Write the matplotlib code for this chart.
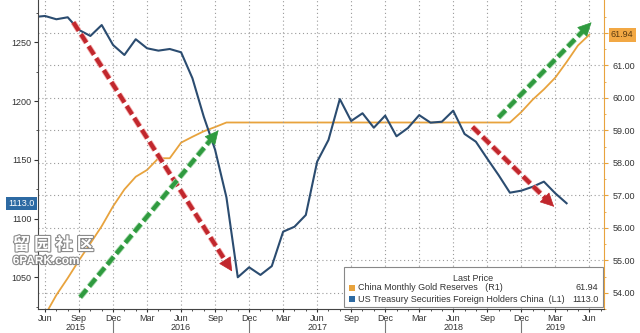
import pandas as pd
import matplotlib
matplotlib.use('Agg')
import matplotlib.pyplot as plt
import matplotlib.patheffects as pe
from matplotlib.patches import Rectangle
from matplotlib.transforms import blended_transform_factory

plt.rcParams['font.family'] = ['Liberation Sans', 'DejaVu Sans']

# US Treasury securities, foreign holders: China ($bn, L1), May 2015 - Apr 2019
ust_months = pd.period_range('2015-05', '2019-04', freq='M')
ust_china = [1271.5, 1272.4, 1269.6, 1271.3, 1260.5, 1255.4, 1264.7, 1247.7,
             1239.2, 1252.6, 1244.9, 1242.9, 1244.3, 1241.5, 1219.4, 1186.7,
             1158.5, 1118.0, 1050.0, 1058.5,
             1052.0, 1059.5, 1088.8, 1093.0, 1103.0, 1148.4, 1166.9, 1201.7,
             1183.0, 1189.6, 1177.3, 1187.6,
             1170.0, 1177.0, 1188.0, 1181.6, 1182.4, 1191.8, 1172.0, 1165.4,
             1151.0, 1137.0, 1122.0, 1123.7,
             1127.0, 1131.4, 1121.5, 1113.0]

# China monthly gold reserves (mn oz, R1), Jun 2015 - Jun 2019
gold_months = pd.period_range('2015-06', '2019-06', freq='M')
gold_reserves = [53.31, 53.93, 54.45, 55.00, 55.52, 56.05, 56.66,
                 57.18, 57.57, 57.78, 58.14, 58.14, 58.62, 58.80, 58.97,
                 59.10, 59.24, 59.24, 59.24] + [59.24] * 12 + [59.24] * 11 + \
                [59.56, 59.94, 60.26, 60.62, 61.10, 61.61, 61.94]

base = pd.Period('2015-06', 'M')
x_ust = [(p - base).n for p in ust_months]
x_gold = [(p - base).n for p in gold_months]

tick_months = pd.period_range('2015-06', '2019-06', freq='M')[::3]
x_ticks = [(p - base).n for p in tick_months]
tick_labels = [p.strftime('%b') for p in tick_months]

years = ['2015', '2016', '2017', '2018', '2019']
year_pos = [2.7, 12, 24, 36, 45]
year_breaks = [6, 18, 30, 42]

# trend arrows (start month, start value, end month, end value) on L1 scale
arrows = [
    (2.5, 1267, 16.5, 1055, '#c1272d'),
    (3.1, 1033, 15.3, 1175, '#2f9a3f'),
    (40.0, 1186, 48.2, 1267, '#2f9a3f'),
    (37.7, 1178, 44.9, 1110, '#c1272d'),
]

blue = '#2b4c70'
orange = '#e8a33d'
grid_c = '#9a9a9a'
txt_c = '#333333'

fig = plt.figure(figsize=(6.4, 3.33), dpi=100)
ax = fig.add_axes([38 / 640, 1 - 309 / 333, 566 / 640, 309 / 333])
ax2 = ax.twinx()
ax.set_zorder(ax2.get_zorder() + 1)
ax.patch.set_visible(False)

ax2.plot(x_gold, gold_reserves, color=orange, lw=1.3)
ax.plot(x_ust, ust_china, color=blue, lw=1.5)

ax.set_xlim(-0.62, 49.3)
ax.set_ylim(1023, 1286)
ax2.set_ylim(53.54, 63.01)

# x axis
ax.set_xticks(x_ticks)
ax.set_xticklabels(tick_labels)
ax.set_xticks(range(0, 50), minor=True)
ax.tick_params(axis='x', which='major', length=2.5, pad=1.0, labelsize=6.5, colors=txt_c)
ax.tick_params(axis='x', which='minor', length=1.5, colors=txt_c)
ax.xaxis.grid(True, which='major', ls=(0, (1, 2.5)), color=grid_c, lw=0.8)

tr = blended_transform_factory(ax.transData, ax.transAxes)
for y, p in zip(years, year_pos):
    ax.text(p, -0.0595, y, transform=tr, ha='center', va='center', fontsize=6.5, color=txt_c)
for b in year_breaks:
    ax.plot([b, b], [-0.04, -0.085], transform=tr, color='#777777', lw=0.8, clip_on=False)

# left axis
ax.set_yticks([1050, 1100, 1150, 1200, 1250])
ax.set_yticks(range(1025, 1290, 25), minor=True)
ax.tick_params(axis='y', which='major', length=3, pad=1.5, labelsize=6.5, colors=txt_c)
ax.tick_params(axis='y', which='minor', length=1.5, colors=txt_c)

# right axis
ax2.set_yticks(range(54, 63))
ax2.set_yticklabels([f'{v:.2f}' for v in range(54, 62)] + [''])
ax2.set_yticks([v + 0.5 for v in range(53, 63)], minor=True)
ax2.tick_params(axis='y', which='major', length=3, pad=3, labelsize=6.5,
                color=orange, labelcolor=txt_c)
ax2.tick_params(axis='y', which='minor', length=1.5, color=orange)
ax2.yaxis.grid(True, ls=(0, (1, 2.5)), color=grid_c, lw=0.8)

ax.spines['top'].set_visible(False)
ax2.spines['top'].set_visible(False)
ax.spines['right'].set_visible(False)
ax2.spines['left'].set_visible(False)
ax2.spines['bottom'].set_visible(False)
ax2.spines['right'].set_color(orange)
ax.spines['left'].set_color('#444444')
ax.spines['bottom'].set_color('#444444')

# trend arrows
for x0, y0, x1, y1, c in arrows:
    p0 = ax.transData.transform((x0, y0))
    p1 = ax.transData.transform((x1, y1))
    d = p1 - p0
    d = d / (d ** 2).sum() ** 0.5
    hb = ax.transData.inverted().transform(p1 - d * 10)
    halo = '#f3a5a5' if c == '#c1272d' else '#9fd6a5'
    ax.plot([x0, hb[0]], [y0, hb[1]], color=c, lw=3.0, ls=(0, (2.4, 1.0)),
            solid_capstyle='butt', dash_capstyle='butt', zorder=5,
            path_effects=[pe.Stroke(linewidth=4.2, foreground=halo), pe.Normal()])
    ax.annotate('', xy=(x1, y1), xytext=(hb[0], hb[1]), zorder=6,
                arrowprops=dict(arrowstyle='-|>,head_length=0.9,head_width=0.45',
                                color=c, lw=0.5, shrinkA=0, shrinkB=0))

# last value boxes
trl = blended_transform_factory(ax.transAxes, ax.transData)
ax.text(-0.006, ust_china[-1], f'{ust_china[-1]:.1f}', transform=trl, ha='right', va='center',
        fontsize=6.5, color='white', zorder=10, clip_on=False,
        bbox=dict(boxstyle='square,pad=0.25', fc='#2d6aa3', ec='none'))
trr = blended_transform_factory(ax2.transAxes, ax2.transData)
ax2.text(1.012, gold_reserves[-1], f'{gold_reserves[-1]:.2f}', transform=trr, ha='left',
         va='center', fontsize=6.5, color='#5a3a10', zorder=10, clip_on=False,
         bbox=dict(boxstyle='square,pad=0.25', fc='#f2a844', ec='none'))

# legend box
ax.add_patch(Rectangle((0.541, 0.006), 0.457, 0.130, transform=ax.transAxes,
                       fc='white', ec='#888888', lw=0.8, zorder=20))
ax.text(0.769, 0.100, 'Last Price', transform=ax.transAxes, ha='center', va='center',
        fontsize=6.5, color=txt_c, zorder=21)
rows = [(0.068, orange, 'China Monthly Gold Reserves   (R1)', f'{gold_reserves[-1]:.2f}'),
        (0.032, '#2d6aa3', 'US Treasury Securities Foreign Holders China  (L1)', f'{ust_china[-1]:.1f}')]
for yy, c, lab, val in rows:
    ax.add_patch(Rectangle((0.549, yy - 0.0095), 0.0106, 0.019, transform=ax.transAxes,
                           fc=c, ec='none', zorder=21))
    ax.text(0.566, yy, lab, transform=ax.transAxes, ha='left', va='center',
            fontsize=6.5, color=txt_c, zorder=21)
    ax.text(0.990, yy, val, transform=ax.transAxes, ha='right', va='center',
            fontsize=6.5, color=txt_c, zorder=21)

# watermark
wm = [pe.Stroke(linewidth=1.6, foreground='#8a8a8a'), pe.Normal()]
fig.text(0.02, 1 - 245 / 333, '留 园 社 区', family=['Noto Sans CJK SC', 'DejaVu Sans'],
         fontsize=12.5, fontweight='bold', color='white', va='center', ha='left',
         path_effects=wm, zorder=30)
fig.text(0.02, 1 - 261 / 333, '6PARK.com', fontsize=8.5, fontweight='bold', color='white',
         va='center', ha='left', path_effects=wm, zorder=30)

fig.savefig('out.png', dpi=100, facecolor='white')
